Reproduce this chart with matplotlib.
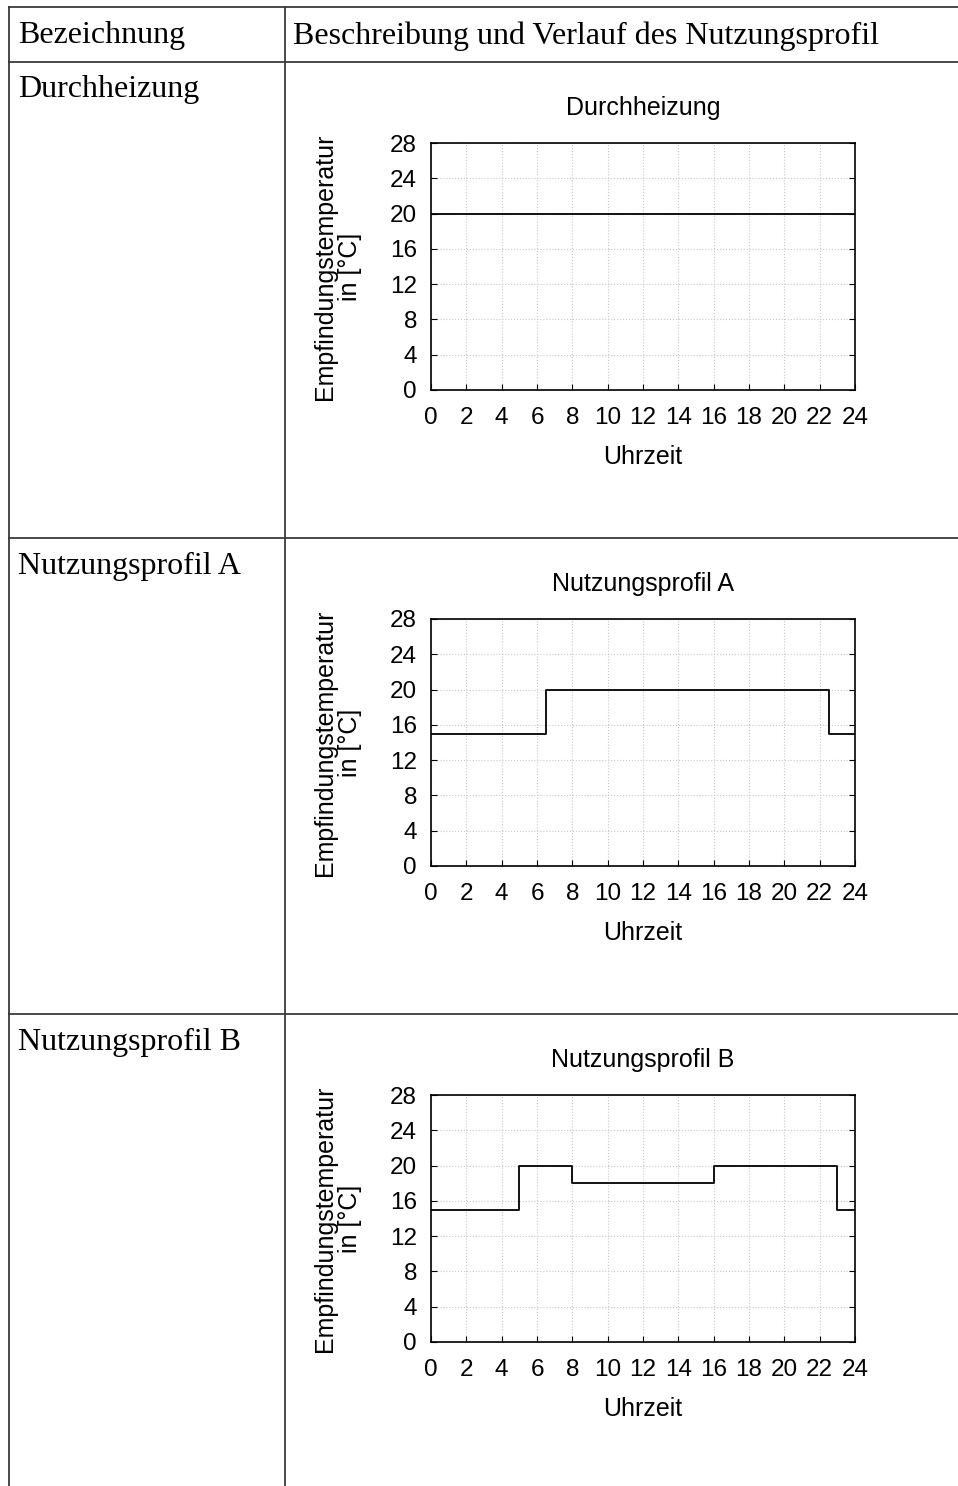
import matplotlib.pyplot as plt
from matplotlib.lines import Line2D

# profile data (hour of change, temperature from that hour on)
hours_durch = [0, 24]
temps_durch = [20, 20]
hours_a = [0, 6.5, 22.5, 24]
temps_a = [15, 20, 15, 15]
hours_b = [0, 5, 8, 16, 23, 24]
temps_b = [15, 20, 18, 20, 15, 15]

names = ['Durchheizung', 'Nutzungsprofil A', 'Nutzungsprofil B']
profiles = [(hours_durch, temps_durch), (hours_a, temps_a), (hours_b, temps_b)]

W, H = 958, 1486
fig = plt.figure(figsize=(W / 100, H / 100), dpi=100)

serif = 'Liberation Serif'
sans = 'Liberation Sans'

def fx(px):
    return px / W

def fy(py):
    return 1 - py / H

# table lines
line_kw = dict(color='#3a3a3a', lw=1.3, transform=fig.transFigure)
fig.add_artist(Line2D([fx(9), 1], [fy(7), fy(7)], **line_kw))
for yy in [62, 538, 1014]:
    fig.add_artist(Line2D([fx(9), 1], [fy(yy), fy(yy)], **line_kw))
fig.add_artist(Line2D([fx(9), fx(9)], [fy(7), 0], **line_kw))
fig.add_artist(Line2D([fx(285), fx(285)], [fy(7), 0], **line_kw))

fig.text(fx(18), fy(36), 'Bezeichnung', family=serif, fontsize=23, va='center')
fig.text(fx(293), fy(36), 'Beschreibung und Verlauf des Nutzungsprofil', family=serif,
         fontsize=23, va='center')

row_tops = [62, 538, 1014]
for i, (name, (hx, ty)) in enumerate(zip(names, profiles)):
    top = row_tops[i]
    fig.text(fx(18), fy(top + 28), name, family=serif, fontsize=23, va='center')

    ax = fig.add_axes([fx(431), fy(top + 81 + 247), fx(424), 247 / H])
    ax.step(hx, ty, where='post', color='black', lw=1.3)
    ax.set_xlim(0, 24)
    ax.set_ylim(0, 28)
    ax.set_xticks(range(0, 25, 2))
    ax.set_yticks(range(0, 29, 4))
    ax.grid(True, color='#c8c8c8', ls=':', lw=0.8)
    ax.tick_params(axis='y', direction='in', length=4, right=True, labelsize=17.5, pad=10)
    ax.tick_params(axis='x', direction='in', length=4, labelsize=17.5, pad=12)
    for lab in ax.get_xticklabels() + ax.get_yticklabels():
        lab.set_family(sans)
    for s in ax.spines.values():
        s.set_linewidth(1.2)
    ax.set_title(name, family=sans, fontsize=18, pad=20)
    ax.set_xlabel('Uhrzeit', family=sans, fontsize=18, labelpad=12)
    ax.set_ylabel('Empfindungstemperatur\nin [°C]', family=sans, fontsize=18,
                  linespacing=1.05, labelpad=20)

fig.savefig('out.png', dpi=100)
